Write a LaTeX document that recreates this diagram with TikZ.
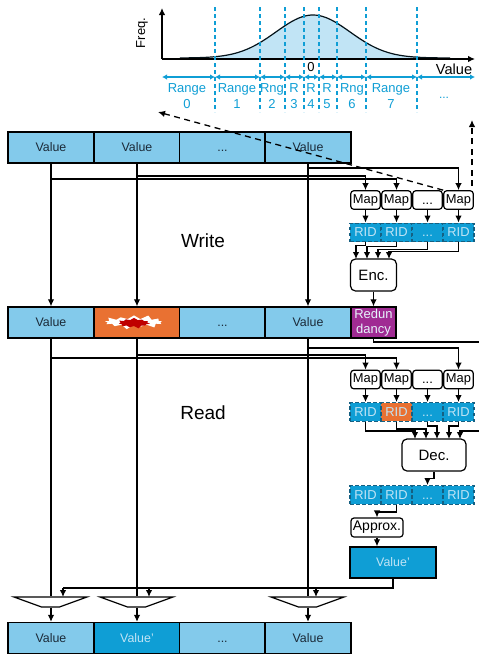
\documentclass[tikz,border=0pt]{standalone}
\usepackage{fontspec}
\setmainfont{Liberation Sans}
\usepackage{xcolor}
\usetikzlibrary{shapes.geometric, shapes.symbols, positioning, arrows.meta, calc}

\definecolor{cellBlue}{HTML}{83CAEB}
\definecolor{deepBlue}{HTML}{0F9ED5}
\definecolor{paleBlue}{HTML}{C1E4F5}
\definecolor{dashBlue}{HTML}{156082}
\definecolor{hitOrange}{HTML}{E97132}
\definecolor{redPurple}{HTML}{A02B93}
\definecolor{darkText}{HTML}{1B2A38}

\newcommand{\moredots}{\vphantom{V}...}

\begin{document}
\begin{tikzpicture}[
    x=1pt, y=-1pt,
    wire/.style={draw, line width=1.2pt},
    arr/.style={wire, -{Latex[length=7pt,width=6.5pt]}},
    cutline/.style={draw=deepBlue, line width=1.2pt, dash pattern=on 4pt off 3pt},
    span/.style={draw=deepBlue, line width=1.2pt, {Latex[length=5pt,width=5.5pt]}-{Latex[length=5pt,width=5.5pt]}},
    backarr/.style={wire, line width=1.3pt, dash pattern=on 6pt off 4.5pt, -{Latex[length=7pt,width=6.5pt]}},
    cell/.style={draw, line width=1.3pt, minimum width=86pt, minimum height=31pt, inner sep=0pt, fill=cellBlue, text=darkText, font=\fontsize{12.4}{14}\selectfont},
    mapbox/.style={draw, line width=1.2pt, rounded corners=3pt, minimum width=29.5pt, minimum height=18.5pt, inner sep=0pt, fill=white, font=\fontsize{12.9}{14}\selectfont},
    ridbox/.style={draw=dashBlue, line width=1.4pt, dash pattern=on 3.5pt off 2.5pt, minimum width=31pt, minimum height=18.5pt, inner sep=0pt, fill=deepBlue, text=paleBlue, font=\fontsize{12.9}{14}\selectfont},
    logicbox/.style={draw, line width=1.2pt, rounded corners=5pt, inner sep=0pt, fill=white, font=\fontsize{15}{16}\selectfont},
    mux/.style={draw, line width=1.2pt, trapezium, shape border rotate=180, trapezium stretches=true, trapezium angle=33, minimum width=73pt, minimum height=10pt, inner sep=1pt, fill=white},
    rangetext/.style={text=deepBlue, align=center, inner sep=0pt, font=\fontsize{13}{16}\selectfont},
    axistext/.style={inner sep=0pt, font=\fontsize{13}{15}\selectfont}
]
    \useasboundingbox (0,0) rectangle (479,654);

    % ================= DISTRIBUTION =================
    \fill[paleBlue] plot[domain=215:417, samples=60] (\x,{58-43*exp(-0.5*pow((\x-313)/37,2))}) -- (417,59) -- (215,59) -- cycle;
    \draw[line width=1.2pt, black!80!dashBlue] plot[domain=180:450, samples=90] (\x,{58-43*exp(-0.5*pow((\x-313)/37,2))});

    \coordinate (origin) at (162,59);
    \coordinate (yEnd) at (162,8);
    \coordinate (xEnd) at (475,59);
    \draw[arr] (origin) -- (yEnd);
    \draw[arr] (origin) -- (xEnd);

    \node[axistext, rotate=90] (freqLabel) at (142,33) {Freq.};
    \node[axistext, font=\fontsize{14.6}{16}\selectfont] (valueLabel) at (454,69) {Value};
    \node[axistext] (zeroLabel) at (311,67) {0};

    % ================= RANGE MARKS =================
    \coordinate (chartTop) at (0,7);
    \coordinate (chartBot) at (0,112);
    \coordinate (cut0) at (162,77);
    \coordinate (cut1) at (215,77);
    \coordinate (cut2) at (260,77);
    \coordinate (cut3) at (285,77);
    \coordinate (cut4) at (304,77);
    \coordinate (cut5) at (319,77);
    \coordinate (cut6) at (337,77);
    \coordinate (cut7) at (366,77);
    \coordinate (cut8) at (417,77);
    \coordinate (cut9) at (475,77);

    \draw[cutline] (cut1 |- chartTop) -- (cut1 |- chartBot);
    \draw[cutline] (cut2 |- chartTop) -- (cut2 |- chartBot);
    \draw[cutline] (cut3 |- chartTop) -- (cut3 |- chartBot);
    \draw[cutline] (cut4 |- chartTop) -- (cut4 |- chartBot);
    \draw[cutline] (cut5 |- chartTop) -- (cut5 |- chartBot);
    \draw[cutline] (cut6 |- chartTop) -- (cut6 |- chartBot);
    \draw[cutline] (cut7 |- chartTop) -- (cut7 |- chartBot);
    \draw[cutline] (cut8 |- chartTop) -- (cut8 |- chartBot);

    \draw[span] (cut0) -- (cut1);
    \draw[span] (cut1) -- (cut2);
    \draw[span] (cut2) -- (cut3);
    \draw[span] (cut3) -- (cut4);
    \draw[span] (cut4) -- (cut5);
    \draw[span] (cut5) -- (cut6);
    \draw[span] (cut6) -- (cut7);
    \draw[span] (cut7) -- (cut8);
    \draw[span] (cut8) -- (cut9);

    \node[rangetext] (range0) at (187,96) {Range\\0};
    \node[rangetext] (range1) at (237,96) {Range\\1};
    \node[rangetext] (range2) at (272,96) {Rng\\2};
    \node[rangetext] (range3) at (294,96) {R\\3};
    \node[rangetext] (range4) at (311,96) {R\\4};
    \node[rangetext] (range5) at (327,96) {R\\5};
    \node[rangetext] (range6) at (352,96) {Rng\\6};
    \node[rangetext] (range7) at (391,96) {Range\\7};
    \node[rangetext, font=\fontsize{12}{14}\selectfont] (rangeMore) at (444,98) {...};

    % ================= VALUE ROWS =================
    \node[cell] (topA) at (51,147.5) {Value};
    \node[cell] (topB) at (137,147.5) {Value};
    \node[cell] (topC) at (222.5,147.5) {\moredots};
    \node[cell] (topD) at (308,147.5) {Value};

    \node[cell] (midA) at (51,322.5) {Value};
    \node[cell, fill=hitOrange] (midB) at (137,322.5) {};
    \node[cell] (midC) at (222.5,322.5) {\moredots};
    \node[cell] (midD) at (308,322.5) {Value};
    \node[cell, fill=redPurple, text=paleBlue!40!white, minimum width=45pt, align=center, font=\fontsize{13}{15.5}\selectfont] (redun) at (373.5,322.5) {Redun\\dancy};

    \node[cell] (botA) at (51,638) {Value};
    \node[cell, fill=deepBlue, text=paleBlue] (botB) at (137,638) {Value'};
    \node[cell] (botC) at (222.5,638) {\moredots};
    \node[cell] (botD) at (308,638) {Value};

    % error mark
    \node[starburst, starburst points=13, starburst point height=5pt, fill=white, minimum width=63pt, minimum height=16pt, inner sep=0pt] (burstOut) at (134,322) {};
    \node[starburst, starburst points=11, starburst point height=3pt, fill=red!75!black, minimum width=33pt, minimum height=12pt, inner sep=0pt] (burstIn) at (134,323) {};

    % ================= WRITE PATH =================
    \node[font=\fontsize{19}{21}\selectfont, inner sep=0pt] (writeLabel) at (203,241) {Write};

    \node[mapbox] (mapA1) at (365.5,200) {Map};
    \node[mapbox] (mapA2) at (396.5,200) {Map};
    \node[mapbox] (mapA3) at (427.5,200) {\moredots};
    \node[mapbox] (mapA4) at (458.5,200) {Map};

    \node[ridbox] (ridA1) at (365.5,232.5) {RID};
    \node[ridbox] (ridA2) at (396.5,232.5) {RID};
    \node[ridbox] (ridA3) at (427.5,232.5) {\moredots};
    \node[ridbox] (ridA4) at (458.5,232.5) {RID};

    \node[logicbox, minimum width=46pt, minimum height=32pt] (enc) at (373.5,275) {Enc.};

    \coordinate (forkA) at (51,179);
    \coordinate (forkB) at (137,176);
    \coordinate (forkD) at (308,168);
    \coordinate (encInA) at (356,259);
    \coordinate (encInB) at (367,259);
    \coordinate (encInC) at (378,259);
    \coordinate (encInD) at (389,259);

    \draw[arr] (topA) -- (midA);
    \draw[arr] (topB) -- (midB);
    \draw[arr] (topD) -- (midD);
    \draw[arr] (forkB) -| (mapA1);
    \draw[arr] (forkA) -| (mapA2);
    \draw[arr] (forkD) -| (mapA4);

    \draw[arr] (mapA1) -- (ridA1);
    \draw[arr] (mapA2) -- (ridA2);
    \draw[arr] (mapA3) -- (ridA3);
    \draw[arr] (mapA4) -- (ridA4);

    \draw[arr] (ridA1.south) -- ++(0,3) -| (encInA);
    \draw[arr] (ridA2.south) -- ++(0,4) -| (encInB);
    \draw[arr] (ridA3.south) -- ++(0,7) -| (encInC);
    \draw[arr] (ridA4.south) -- ++(0,9) -| (encInD);
    \draw[arr] (enc) -- (redun);

    % ================= READ PATH =================
    \node[font=\fontsize{19}{21}\selectfont, inner sep=0pt] (readLabel) at (203,413) {Read};

    \node[mapbox] (mapB1) at (365.5,379.5) {Map};
    \node[mapbox] (mapB2) at (396.5,379.5) {Map};
    \node[mapbox] (mapB3) at (427.5,379.5) {\moredots};
    \node[mapbox] (mapB4) at (458.5,379.5) {Map};

    \node[ridbox] (ridB1) at (365.5,412) {RID};
    \node[ridbox, fill=hitOrange] (ridB2) at (396.5,412) {RID};
    \node[ridbox] (ridB3) at (427.5,412) {\moredots};
    \node[ridbox] (ridB4) at (458.5,412) {RID};

    \node[logicbox, minimum width=64pt, minimum height=32pt] (dec) at (434,455) {Dec.};

    \node[ridbox] (ridC1) at (365.5,495) {RID};
    \node[ridbox] (ridC2) at (396.5,495) {RID};
    \node[ridbox] (ridC3) at (427.5,495) {\moredots};
    \node[ridbox] (ridC4) at (458.5,495) {RID};

    \node[logicbox, rounded corners=3pt, minimum width=52pt, minimum height=19pt, font=\fontsize{14}{15}\selectfont] (approx) at (377,527.5) {Approx.};
    \node[cell, fill=deepBlue, text=paleBlue] (valueNew) at (393,562.5) {Value'};

    \coordinate (forkE) at (51,358);
    \coordinate (forkF) at (137,355);
    \coordinate (forkG) at (308,348);
    \coordinate (edgeOut) at (479,342);
    \coordinate (edgeIn) at (479,431);
    \coordinate (decInA) at (415,439);
    \coordinate (decInB) at (426,439);
    \coordinate (decInC) at (437,439);
    \coordinate (decInD) at (449,439);
    \coordinate (decInE) at (460,439);

    \draw[wire] (redun.south) |- (edgeOut);
    \draw[arr] (forkF) -| (mapB1);
    \draw[arr] (forkE) -| (mapB2);
    \draw[arr] (forkG) -| (mapB4);

    \draw[arr] (mapB1) -- (ridB1);
    \draw[arr] (mapB2) -- (ridB2);
    \draw[arr] (mapB3) -- (ridB3);
    \draw[arr] (mapB4) -- (ridB4);

    \draw[arr] (ridB1.south) -- ++(0,9) -| (decInA);
    \draw[arr] (ridB2.south) -- ++(0,7) -| (decInB);
    \draw[arr] (ridB3.south) -- ++(0,4) -| (decInC);
    \draw[arr] (ridB4.south) -- ++(0,4) -| (decInD);
    \draw[arr] (edgeIn) -| (decInE);

    \draw[arr] (dec.south) -- ++(0,7) -| (ridC3.north);
    \draw[arr] (ridC2.south) -- ++(0,7) -| (approx.north);
    \draw[arr] (approx.south) -- (approx.south |- valueNew.north);

    % ================= OUTPUT MUXES =================
    \node[mux] (muxA) at (50.5,602) {};
    \node[mux] (muxB) at (136.5,602) {};
    \node[mux] (muxD) at (307.5,602) {};

    \coordinate (busA) at (63,588);
    \coordinate (busB) at (149,588);
    \coordinate (busD) at (316,588);
    \coordinate (muxInA) at (63,597);
    \coordinate (muxInB) at (149,597);
    \coordinate (muxInD) at (316,597);

    \draw[wire] (midA.south) -- (midA.south |- muxA.north);
    \draw[wire] (midB.south) -- (midB.south |- muxB.north);
    \draw[wire] (midD.south) -- (midD.south |- muxD.north);

    \draw[wire] (valueNew.south) |- (busA);
    \draw[arr] (busA) -- (muxInA);
    \draw[arr] (busB) -- (muxInB);
    \draw[arr] (busD) -- (muxInD);

    \draw[arr] (midA.south |- muxA.south) -- (botA);
    \draw[arr] (midB.south |- muxB.south) -- (botB);
    \draw[arr] (midD.south |- muxD.south) -- (botD);

    % ================= FEEDBACK TO RANGES =================
    \coordinate (backLeft) at (158,112);
    \coordinate (backRight) at (472,120);
    \coordinate (backFrom) at (472,186);

    \draw[backarr] (mapA4.north west) -- (backLeft);
    \draw[backarr] (backFrom) -- (backRight);

\end{tikzpicture}
\end{document}
